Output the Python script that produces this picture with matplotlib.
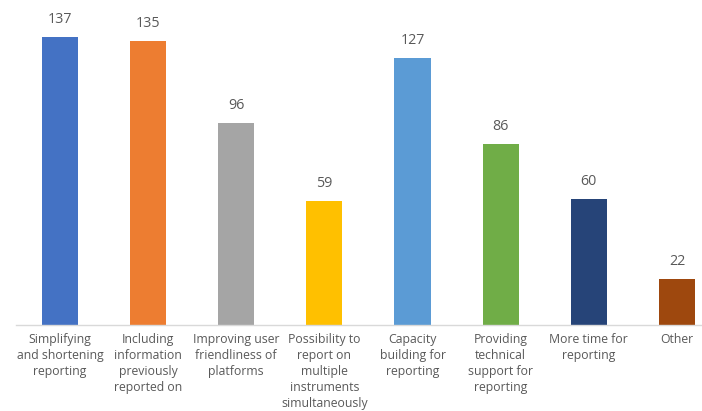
import matplotlib
matplotlib.use("Agg")
import matplotlib.pyplot as plt

categories = [
    "Simplifying\nand shortening\nreporting",
    "Including\ninformation\npreviously\nreported on",
    "Improving user\nfriendliness of\nplatforms",
    "Possibility to\nreport on\nmultiple\ninstruments\nsimultaneously",
    "Capacity\nbuilding for\nreporting",
    "Providing\ntechnical\nsupport for\nreporting",
    "More time for\nreporting",
    "Other",
]
values = [137, 135, 96, 59, 127, 86, 60, 22]
colors = ["#4472C4", "#ED7D31", "#A5A5A5", "#FFC000",
          "#5B9BD5", "#70AD47", "#264478", "#9E480E"]

TXT = "#595959"
plt.rcParams["font.family"] = ["Open Sans", "DejaVu Sans"]

W, H = 702, 411
fig = plt.figure(figsize=(W / 100, H / 100), dpi=100)
ax = fig.add_axes([16 / W, 86 / H, (W - 16) / W, 325 / H])

x = range(len(values))
bars = ax.bar(x, values, width=0.41, color=colors, zorder=2)

for b, v in zip(bars, values):
    ax.annotate(str(v), (b.get_x() + b.get_width() / 2, v),
                xytext=(0, 7), textcoords="offset points",
                ha="center", va="bottom", fontsize=10.3, color=TXT)

ax.set_xlim(-0.5, 7.285)
ax.set_ylim(0, 154.6)
ax.set_xticks(list(x))
ax.set_xticklabels(categories, fontsize=8.8, color=TXT, linespacing=1.3)
ax.tick_params(axis="x", length=0, pad=6)
ax.set_yticks([])

for s in ["top", "right", "left"]:
    ax.spines[s].set_visible(False)
ax.spines["bottom"].set_color("#D9D9D9")
ax.spines["bottom"].set_linewidth(1)

fig.savefig("out.png", dpi=100, facecolor="white")
